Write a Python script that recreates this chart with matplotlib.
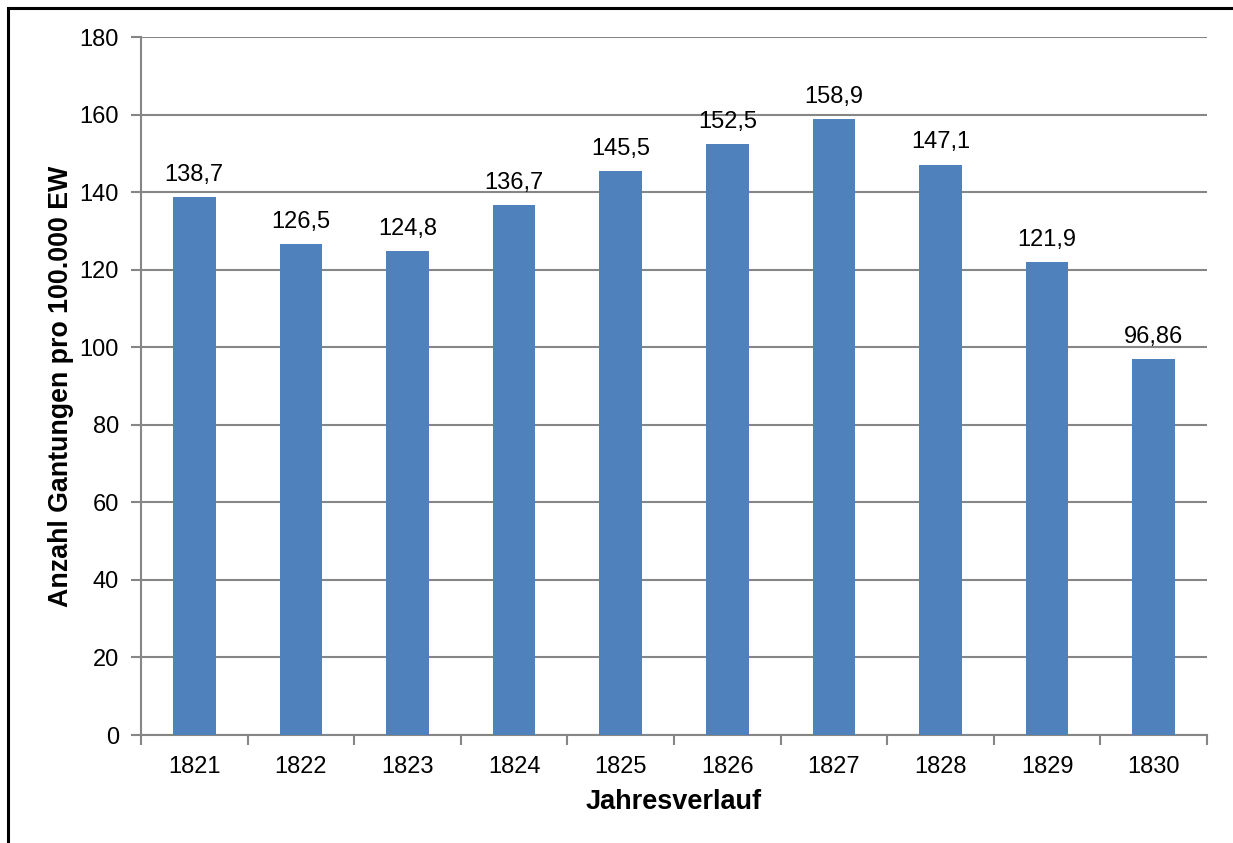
import matplotlib

matplotlib.use("Agg")
import matplotlib.pyplot as plt
from matplotlib.patches import Rectangle

years = ["1821", "1822", "1823", "1824", "1825", "1826", "1827", "1828", "1829", "1830"]
values = [138.7, 126.5, 124.8, 136.7, 145.5, 152.5, 158.9, 147.1, 121.9, 96.86]
value_labels = ["138,7", "126,5", "124,8", "136,7", "145,5", "152,5", "158,9", "147,1", "121,9", "96,86"]
y_ticks = [0, 20, 40, 60, 80, 100, 120, 140, 160, 180]

plt.rcParams["font.family"] = ["Liberation Sans", "DejaVu Sans"]

W, H = 1233, 843
fig = plt.figure(figsize=(W / 100, H / 100), dpi=100)
ax = fig.add_axes([141 / W, 1 - 735 / H, (1207 - 141) / W, (735 - 37) / H])

grey = "#868686"
fs = 17
x = list(range(len(years)))
bars = ax.bar(x, values, width=0.4, color="#4F81BD", zorder=3)
ax.bar_label(bars, labels=value_labels, padding=8, fontsize=fs)

ax.set_xlim(-0.5, len(years) - 0.5)
ax.set_ylim(0, 180)
ax.set_yticks(y_ticks)
ax.set_yticklabels([str(v) for v in y_ticks], fontsize=fs)
ax.set_xticks(x)
ax.set_xticklabels(years, fontsize=fs)
ax.set_xticks([i - 0.5 for i in range(len(years) + 1)], minor=True)
ax.tick_params(axis="x", which="major", length=0, pad=15)
ax.tick_params(axis="x", which="minor", length=7, color=grey, width=1.5)
ax.tick_params(axis="y", length=7, color=grey, width=1.5, pad=9)

ax.grid(axis="y", color=grey, linewidth=1.5, zorder=0)
ax.set_axisbelow(True)
for side in ["top", "right"]:
    ax.spines[side].set_visible(False)
for side in ["left", "bottom"]:
    ax.spines[side].set_color(grey)
    ax.spines[side].set_linewidth(1.5)

ax.set_ylabel("Anzahl Gantungen pro 100.000 EW", fontsize=19.3, fontweight="bold", labelpad=4)
ax.set_xlabel("Jahresverlauf", fontsize=19.5, fontweight="bold", labelpad=8)

# outer chart frame (only left and top visible in the crop)
fig.patches.append(Rectangle((8 / W, -0.1), 1.2, 1 - 8 / H + 0.1, transform=fig.transFigure,
                             fill=False, edgecolor="black", linewidth=2.2))

fig.savefig("out.png", dpi=100)
